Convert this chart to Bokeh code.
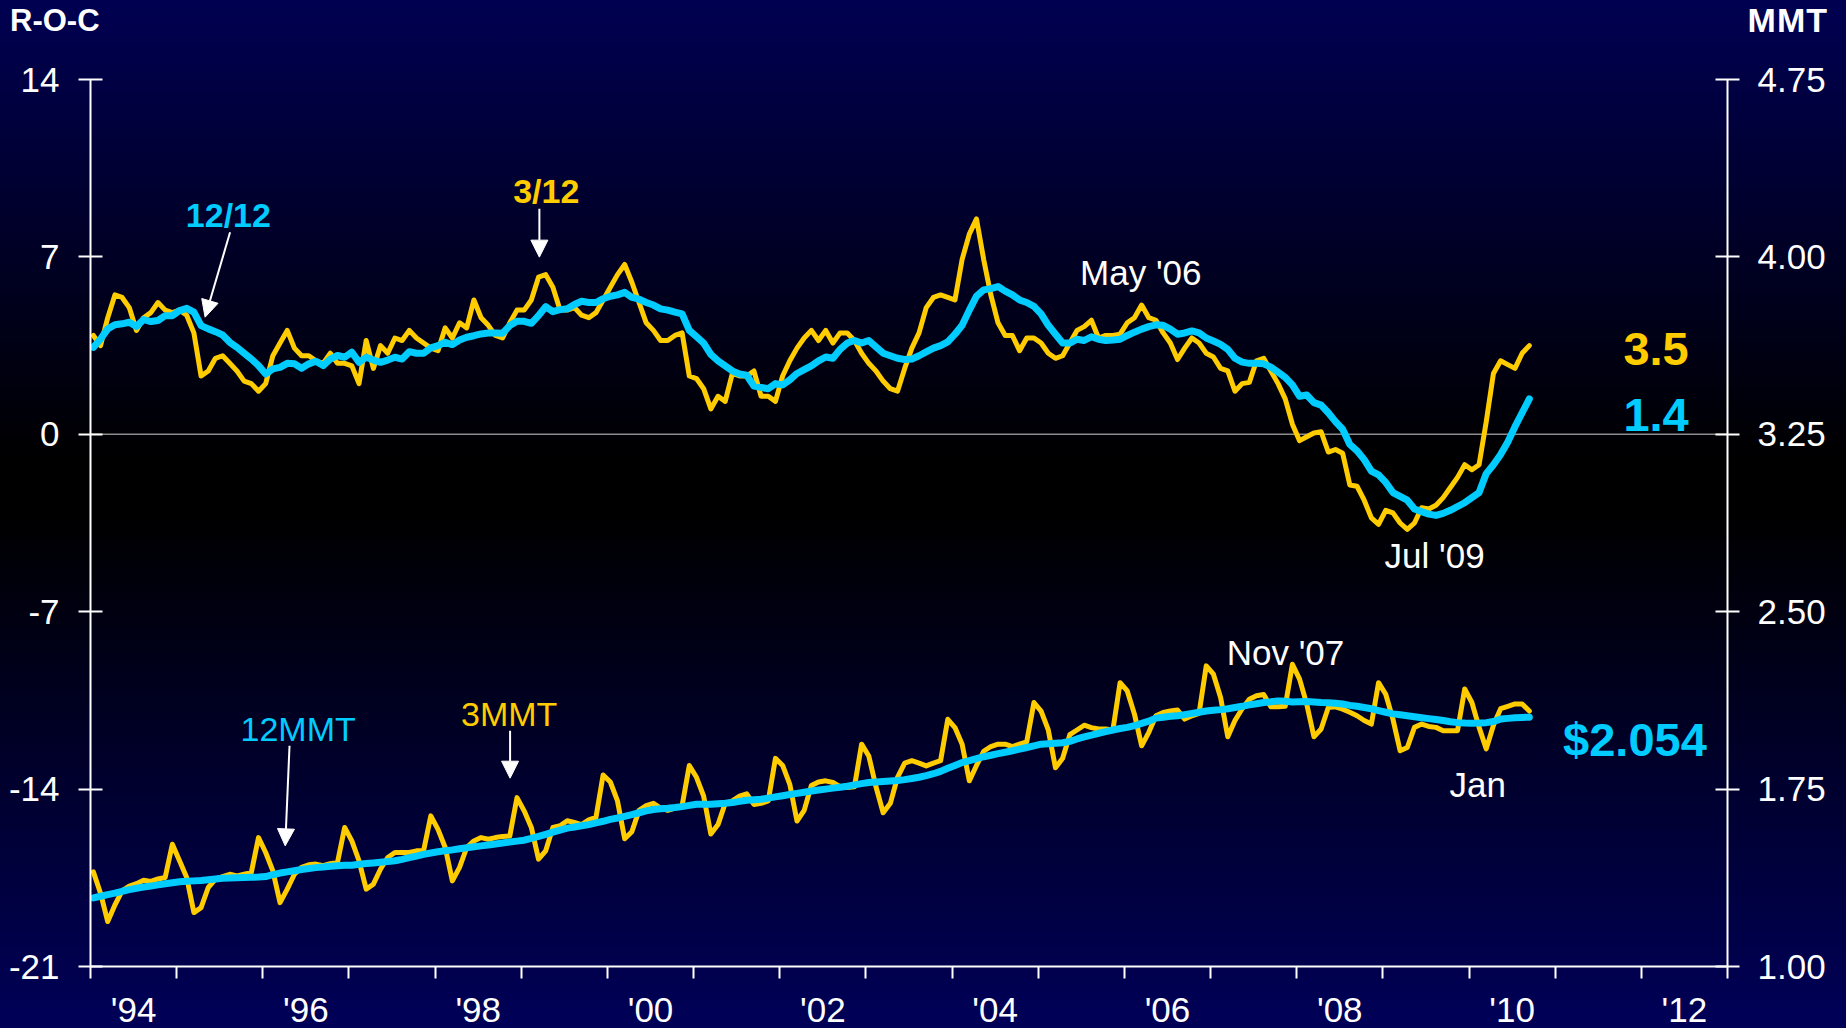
import numpy as np
from bokeh.plotting import figure
from bokeh.layouts import column
from bokeh.models import (Range1d, LinearAxis, FixedTicker, PrintfTickFormatter,
                          CustomJSTickFormatter, Label, Arrow, NormalHead, Span,
                          ColumnDataSource, Div)
from bokeh.embed import file_html
from bokeh.resources import INLINE

# ---------------- data (monthly, Jan 1994 .. Sep 2010) ----------------
START_YEAR = 1994

# rate of change, 3/12 (yellow, left axis)
roc_3m = [
    3.9, 3.5, 4.6, 5.5, 5.4, 5.0, 4.1, 4.6, 4.8, 5.2, 4.9, 4.8,
    4.9, 4.7, 4.0, 2.3, 2.5, 3.0, 3.1, 2.8, 2.5, 2.1, 2.0, 1.7,
    2.0, 3.1, 3.6, 4.1, 3.4, 3.1, 3.1, 2.9, 2.8, 3.2, 2.8, 2.8,
    2.7, 2.0, 3.7, 2.6, 3.5, 3.2, 3.8, 3.7, 4.1, 3.8, 3.6, 3.4,
    3.3, 4.2, 3.8, 4.4, 4.2, 5.3, 4.6, 4.3, 3.9, 3.8, 4.4, 4.9,
    4.9, 5.3, 6.2, 6.3, 5.8, 4.9, 4.9, 5.0, 4.7, 4.6, 4.8, 5.3,
    5.8, 6.3, 6.7, 6.0, 5.2, 4.4, 4.1, 3.7, 3.7, 3.9, 4.0, 2.3,
    2.2, 1.8, 1.0, 1.5, 1.3, 2.4, 2.3, 2.3, 2.5, 1.5, 1.5, 1.3,
    2.3, 2.9, 3.4, 3.8, 4.1, 3.7, 4.1, 3.6, 4.0, 4.0, 3.7, 3.2,
    2.8, 2.5, 2.1, 1.8, 1.7, 2.6, 3.4, 4.0, 5.0, 5.4, 5.5, 5.4,
    5.3, 6.9, 7.9, 8.5, 6.9, 5.5, 4.4, 3.9, 3.9, 3.3, 3.8, 3.8,
    3.6, 3.2, 3.0, 3.1, 3.6, 4.1, 4.25, 4.5, 3.8, 3.9, 3.9, 3.95,
    4.4, 4.6, 5.1, 4.6, 4.5, 4.0, 3.6, 2.95, 3.4, 3.8, 3.6, 3.2,
    3.05, 2.6, 2.5, 1.7, 2.0, 2.05, 2.9, 3.0, 2.5, 2.0, 1.4, 0.4,
    -0.25, -0.1, 0.05, 0.1, -0.7, -0.6, -0.75, -2.0, -2.05, -2.6, -3.3, -3.55,
    -3.0, -3.1, -3.5, -3.75, -3.5, -2.9, -2.95, -2.8, -2.5, -2.1, -1.7, -1.2,
    -1.4, -1.2, 0.5, 2.4, 2.9, 2.75, 2.6, 3.2, 3.5,
]

# rate of change, 12/12 (cyan, left axis)
roc_12m = [
    3.43, 3.76, 4.16, 4.32, 4.36, 4.42, 4.25, 4.53, 4.45, 4.49, 4.68, 4.68,
    4.88, 4.97, 4.82, 4.29, 4.16, 4.05, 3.92, 3.63, 3.43, 3.20, 2.97, 2.71,
    2.38, 2.58, 2.64, 2.80, 2.78, 2.61, 2.78, 2.88, 2.71, 2.97, 3.11, 3.04,
    3.24, 2.84, 3.04, 2.93, 2.84, 2.93, 3.04, 2.97, 3.26, 3.20, 3.20, 3.41,
    3.50, 3.63, 3.54, 3.72, 3.83, 3.89, 3.96, 4.00, 4.00, 3.99, 4.29, 4.46,
    4.46, 4.38, 4.68, 5.04, 4.84, 4.92, 4.95, 5.12, 5.25, 5.20, 5.20, 5.35,
    5.45, 5.50, 5.60, 5.40, 5.33, 5.20, 5.10, 4.95, 4.90, 4.82, 4.75, 4.10,
    3.85, 3.60, 3.15, 2.90, 2.70, 2.50, 2.38, 2.33, 1.90, 1.85, 1.80, 2.00,
    1.95, 2.15, 2.40, 2.55, 2.70, 2.90, 3.05, 3.00, 3.35, 3.60, 3.70, 3.60,
    3.70, 3.45, 3.20, 3.10, 3.00, 2.95, 2.97, 3.10, 3.25, 3.40, 3.50, 3.65,
    3.95, 4.30, 4.90, 5.45, 5.70, 5.75, 5.83, 5.65, 5.50, 5.30, 5.20, 5.05,
    4.75, 4.30, 3.95, 3.60, 3.60, 3.75, 3.70, 3.85, 3.75, 3.70, 3.72, 3.75,
    3.90, 4.03, 4.15, 4.25, 4.32, 4.30, 4.15, 3.95, 4.00, 4.08, 4.00, 3.80,
    3.68, 3.55, 3.35, 3.00, 2.85, 2.80, 2.80, 2.78, 2.65, 2.45, 2.25, 1.95,
    1.50, 1.55, 1.25, 1.15, 0.85, 0.50, 0.20, -0.40, -0.65, -1.00, -1.45, -1.60,
    -1.90, -2.30, -2.45, -2.60, -2.95, -3.05, -3.15, -3.20, -3.12, -3.00, -2.85, -2.70,
    -2.50, -2.30, -1.55, -1.20, -0.80, -0.30, 0.30, 0.85, 1.40,
]

# 3-month moving total, MMT (yellow, right axis)
mmt_3m = [
    1.40, 1.31, 1.19, 1.26, 1.32, 1.34, 1.35, 1.365, 1.36, 1.37, 1.376, 1.517,
    1.447, 1.376, 1.228, 1.249, 1.334, 1.369, 1.38, 1.39, 1.383, 1.39, 1.397, 1.545,
    1.482, 1.404, 1.27, 1.327, 1.39, 1.419, 1.43, 1.433, 1.426, 1.435, 1.44, 1.588,
    1.531, 1.447, 1.327, 1.348, 1.412, 1.461, 1.482, 1.482, 1.482, 1.489, 1.49, 1.637,
    1.58, 1.503, 1.362, 1.419, 1.503, 1.531, 1.545, 1.538, 1.545, 1.55, 1.552, 1.714,
    1.658, 1.588, 1.454, 1.489, 1.588, 1.595, 1.616, 1.609, 1.60, 1.62, 1.63, 1.81,
    1.78, 1.70, 1.54, 1.57, 1.66, 1.68, 1.69, 1.67, 1.66, 1.67, 1.68, 1.85,
    1.80, 1.72, 1.56, 1.60, 1.69, 1.70, 1.72, 1.73, 1.685, 1.69, 1.70, 1.88,
    1.85, 1.77, 1.615, 1.66, 1.765, 1.78, 1.785, 1.778, 1.76, 1.757, 1.76, 1.94,
    1.89, 1.76, 1.65, 1.69, 1.80, 1.86, 1.87, 1.86, 1.848, 1.86, 1.87, 2.045,
    2.01, 1.94, 1.785, 1.85, 1.91, 1.93, 1.94, 1.94, 1.93, 1.94, 1.95, 2.116,
    2.08, 2.00, 1.84, 1.88, 1.98, 2.00, 2.02, 2.01, 2.004, 2.004, 2.00, 2.20,
    2.165, 2.067, 1.933, 1.99, 2.06, 2.074, 2.08, 2.084, 2.046, 2.06, 2.07, 2.271,
    2.236, 2.137, 1.971, 2.04, 2.09, 2.13, 2.145, 2.15, 2.098, 2.098, 2.10, 2.278,
    2.215, 2.109, 1.971, 2.004, 2.095, 2.098, 2.088, 2.075, 2.06, 2.04, 2.025, 2.20,
    2.151, 2.046, 1.912, 1.926, 2.011, 2.025, 2.015, 2.011, 1.997, 1.997, 1.997, 2.173,
    2.116, 2.011, 1.92, 2.02, 2.09, 2.10, 2.11, 2.11, 2.08,
]

# 12-month moving total, MMT (cyan, right axis)
mmt_12m = [
    1.290, 1.297, 1.304, 1.310, 1.318, 1.325, 1.331, 1.336, 1.340, 1.345, 1.350, 1.354,
    1.358, 1.360, 1.362, 1.364, 1.367, 1.370, 1.373, 1.374, 1.375, 1.376, 1.377, 1.378,
    1.380, 1.388, 1.395, 1.400, 1.405, 1.410, 1.414, 1.418, 1.421, 1.424, 1.426, 1.428,
    1.428, 1.432, 1.435, 1.438, 1.441, 1.444, 1.447, 1.453, 1.460, 1.467, 1.474, 1.480,
    1.485, 1.489, 1.493, 1.498, 1.502, 1.506, 1.510, 1.514, 1.518, 1.522, 1.526, 1.530,
    1.534, 1.542, 1.550, 1.559, 1.568, 1.577, 1.585, 1.590, 1.595, 1.600, 1.607, 1.614,
    1.622, 1.628, 1.635, 1.642, 1.650, 1.658, 1.664, 1.667, 1.669, 1.672, 1.676, 1.681,
    1.686, 1.686, 1.686, 1.688, 1.690, 1.693, 1.698, 1.703, 1.705, 1.707, 1.712, 1.717,
    1.722, 1.727, 1.732, 1.737, 1.742, 1.746, 1.750, 1.754, 1.758, 1.762, 1.768, 1.773,
    1.778, 1.780, 1.782, 1.784, 1.786, 1.790, 1.795, 1.800, 1.807, 1.815, 1.825, 1.838,
    1.850, 1.862, 1.870, 1.879, 1.887, 1.893, 1.900, 1.906, 1.912, 1.919, 1.926, 1.933,
    1.940, 1.942, 1.944, 1.946, 1.952, 1.962, 1.971, 1.978, 1.986, 1.993, 2.000, 2.006,
    2.011, 2.018, 2.028, 2.037, 2.050, 2.054, 2.058, 2.060, 2.065, 2.070, 2.075, 2.080,
    2.083, 2.086, 2.090, 2.095, 2.100, 2.106, 2.111, 2.116, 2.119, 2.123, 2.121, 2.118,
    2.119, 2.120, 2.118, 2.116, 2.115, 2.113, 2.110, 2.104, 2.100, 2.095, 2.090, 2.082,
    2.075, 2.068, 2.064, 2.060, 2.056, 2.052, 2.048, 2.044, 2.040, 2.035, 2.031, 2.029,
    2.028, 2.029, 2.031, 2.036, 2.046, 2.049, 2.052, 2.053, 2.054,
]

label_years = list(range(1994, 2013, 2))          # '94 .. '12
year_bounds = list(range(1994, 2014))             # yearly tick marks
roc_ticks = [-21, -14, -7, 0, 7, 14]
mmt_ticks = [1.00, 1.75, 2.50, 3.25, 4.00, 4.75]

# ---------------- styling ----------------
YELLOW = "#FFCC00"
CYAN = "#00CCFF"
WHITE = "#FFFFFF"
FONT = "Liberation Sans"
PAGE_W = 1846
HEAD_H = 40

months = np.arange(len(roc_3m))
xpos = START_YEAR + (months + 0.4) / 12.0
src = ColumnDataSource(dict(x=xpos, roc3=roc_3m, roc12=roc_12m,
                            mmt3=mmt_3m, mmt12=mmt_12m))

# ---- header strip with the two axis titles (HTML text) ----
head_html = (
    '<div style="position:relative;width:%dpx;height:%dpx;'
    "font-family:'Liberation Sans',Arial,sans-serif;font-weight:bold;color:#FFFFFF;\">"
    '<span style="position:absolute;left:10px;top:3px;font-size:31px;'
    'line-height:normal;white-space:nowrap;">R-O-C</span>'
    '<span style="position:absolute;right:18px;top:1px;font-size:34px;'
    'line-height:normal;letter-spacing:1px;white-space:nowrap;">MMT</span>'
    '</div>' % (PAGE_W, HEAD_H)
)
head = Div(text=head_html, width=PAGE_W, height=HEAD_H, margin=0)

# ---- main chart ----
p = figure(frame_width=1637, frame_height=887, output_backend="svg", toolbar_location=None,
           x_range=Range1d(1994, 2013), y_range=Range1d(-21, 14),
           min_border_left=90, min_border_right=119,
           min_border_top=79 - HEAD_H, min_border_bottom=62)
p.background_fill_color = None
p.border_fill_color = None
p.outline_line_color = None
p.xgrid.visible = False
p.ygrid.visible = False
p.extra_y_ranges = {"mmt": Range1d(1.0, 4.75)}


def style_axis(ax, tick_in=12, tick_out=12, standoff=18):
    ax.axis_line_color = WHITE
    ax.axis_line_width = 2
    ax.major_tick_line_color = WHITE
    ax.major_tick_line_width = 2
    ax.major_tick_in = tick_in
    ax.major_tick_out = tick_out
    ax.minor_tick_line_color = None
    ax.major_label_text_color = WHITE
    ax.major_label_text_font = FONT
    ax.major_label_text_font_size = "35px"
    ax.major_label_standoff = standoff


# left axis
ya = p.yaxis[0]
ya.ticker = FixedTicker(ticks=roc_ticks)
ya.formatter = CustomJSTickFormatter(code="return tick.toFixed(0);")
style_axis(ya, standoff=19)

# right axis
ra = LinearAxis(y_range_name="mmt", ticker=FixedTicker(ticks=mmt_ticks),
                formatter=PrintfTickFormatter(format="%.2f"))
style_axis(ra, standoff=18)
p.add_layout(ra, "right")

# bottom axis: labels mid-year, tick marks at year boundaries
xa = p.xaxis[0]
xa.ticker = FixedTicker(ticks=[y + 0.5 for y in label_years], minor_ticks=year_bounds)
xa.formatter = CustomJSTickFormatter(code="return \"'\" + String(Math.floor(tick)).slice(-2);")
style_axis(xa, tick_in=0, tick_out=12, standoff=11)
xa.major_tick_line_color = None
xa.minor_tick_line_color = WHITE
xa.minor_tick_line_width = 2
xa.minor_tick_in = 0
xa.minor_tick_out = 12

# zero line
p.add_layout(Span(location=0, dimension="width", line_color="#8c8c8c", line_width=1.5,
                  level="underlay"))

# lines
p.line("x", "mmt3", source=src, y_range_name="mmt", line_color=YELLOW,
       line_width=5, line_join="round", line_cap="round")
p.line("x", "mmt12", source=src, y_range_name="mmt", line_color=CYAN,
       line_width=7, line_join="round", line_cap="round")
p.line("x", "roc3", source=src, line_color=YELLOW, line_width=5, line_join="round",
       line_cap="round")
p.line("x", "roc12", source=src, line_color=CYAN, line_width=7, line_join="round",
       line_cap="round")


def add_label(x, y, text, color=WHITE, size="35px", bold=False, align="center"):
    p.add_layout(Label(x=x, y=y, text=text, text_color=color, text_font=FONT,
                       text_font_size=size, text_font_style="bold" if bold else "normal",
                       text_align=align, text_baseline="alphabetic"))


# latest values
add_label(2012.55, 3.36, "3.5", color=YELLOW, size="47px", bold=True, align="right")
add_label(2012.55, 0.76, "1.4", color=CYAN, size="47px", bold=True, align="right")
add_label(2012.76, -12.04, "$2.054", color=CYAN, size="47px", bold=True, align="right")

# series names
add_label(1995.60, 8.65, "12/12", color=CYAN, size="34px", bold=True)
add_label(1999.29, 9.60, "3/12", color=YELLOW, size="34px", bold=True)
add_label(1996.41, -11.61, "12MMT", color=CYAN, size="34px")
add_label(1998.86, -11.04, "3MMT", color=YELLOW, size="34px")

# date call-outs
add_label(2006.19, 6.39, "May '06")
add_label(2009.60, -4.80, "Jul '09")
add_label(2007.87, -8.60, "Nov '07")
add_label(2010.10, -13.81, "Jan")


def add_arrow(x0, y0, x1, y1):
    p.add_layout(Arrow(end=NormalHead(size=17, fill_color=WHITE, line_color=WHITE,
                                      line_width=1),
                       x_start=x0, y_start=y0, x_end=x1, y_end=y1,
                       line_color=WHITE, line_width=2))


add_arrow(1995.62, 7.97, 1995.33, 4.62)
add_arrow(1999.21, 8.90, 1999.21, 6.99)
add_arrow(1996.31, -12.29, 1996.26, -16.24)
add_arrow(1998.87, -11.70, 1998.87, -13.57)

layout = column(head, p, spacing=0)

html = file_html(layout, INLINE, title="R-O-C / MMT")
css = ("<style>html{height:100%;overflow:hidden;background:linear-gradient(to bottom,"
       "#000052 0%,#000000 45%,#000000 50%,#000058 100%) no-repeat;}"
       "body{margin:0;overflow:hidden;}</style>")
html = html.replace("</head>", css + "</head>", 1)
open("out.html", "w").write(html)
